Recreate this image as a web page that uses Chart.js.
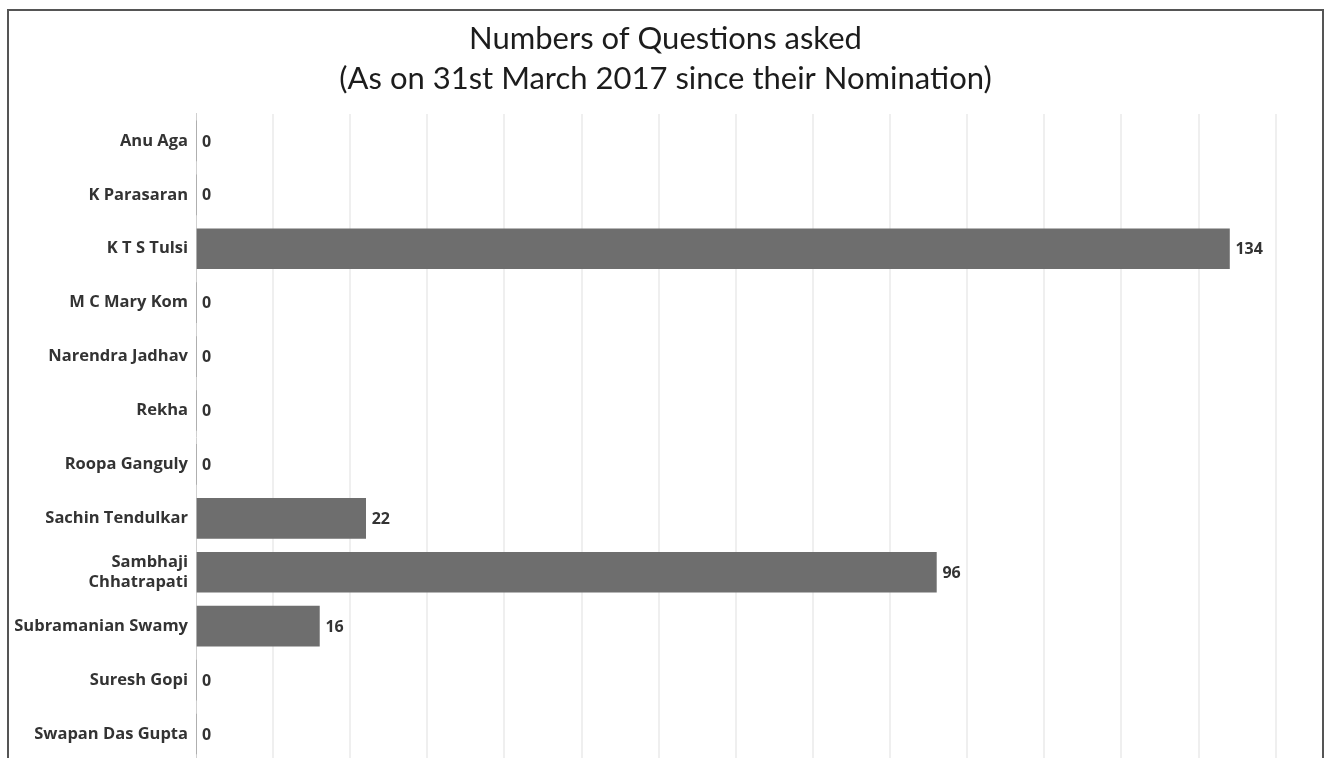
<!DOCTYPE html>
<html>
<head>
<meta charset="utf-8">
<script src="https://cdn.jsdelivr.net/npm/chart.js@4/dist/chart.umd.min.js"></script>
<style>
  html, body { margin: 0; padding: 0; background: #ffffff; overflow: hidden; }
  #frame {
    position: absolute; left: 7px; top: 9px; width: 1313px; height: 780px;
    border: 2px solid #555555; border-bottom: none; background: #ffffff; overflow: hidden;
  }
  #wrap { position: absolute; left: 0; top: 0; width: 1322px; height: 780px; }
</style>
</head>
<body>
<div id="frame"><div id="wrap"><canvas id="chart"></canvas></div></div>
<script>
// Members and how many questions each asked
const members = [
  'Anu Aga', 'K Parasaran', 'K T S Tulsi', 'M C Mary Kom', 'Narendra Jadhav',
  'Rekha', 'Roopa Ganguly', 'Sachin Tendulkar', ['Sambhaji', 'Chhatrapati'],
  'Subramanian Swamy', 'Suresh Gopi', 'Swapan Das Gupta'
];
const questions = [0, 0, 134, 0, 0, 0, 0, 22, 96, 16, 0, 0];
const titleLines = ['Numbers of Questions asked', '(As on 31st March 2017 since their Nomination)'];

const labelFont = { family: 'Open Sans', size: 16.5, weight: 'bold', lineHeight: 1.25 };

// Writes each bar's value just past its end
const valueLabels = {
  id: 'valueLabels',
  afterDatasetsDraw(chart) {
    const ctx = chart.ctx;
    const meta = chart.getDatasetMeta(0);
    ctx.save();
    ctx.font = 'bold 16px "Open Sans"';
    ctx.fillStyle = '#333333';
    ctx.textAlign = 'left';
    ctx.textBaseline = 'middle';
    meta.data.forEach((bar, i) => {
      ctx.fillText(String(questions[i]), bar.x + 6, bar.y + 1);
    });
    ctx.restore();
  }
};

new Chart(document.getElementById('chart'), {
  type: 'bar',
  data: {
    labels: members,
    datasets: [{
      data: questions,
      backgroundColor: '#6e6e6e',
      borderWidth: 0,
      barThickness: 40
    }]
  },
  options: {
    indexAxis: 'y',
    responsive: true,
    maintainAspectRatio: false,
    animation: false,
    layout: { padding: { left: 0, right: 9, top: 0, bottom: 30 } },
    plugins: {
      legend: { display: false },
      tooltip: { enabled: false },
      title: {
        display: true,
        text: titleLines,
        color: '#1c1c1c',
        font: { family: 'Lato', size: 31, weight: 'normal', lineHeight: 1.29 },
        padding: { top: 8, bottom: 15 }
      }
    },
    scales: {
      x: {
        min: 0,
        max: 146,
        ticks: { display: false, stepSize: 10 },
        grid: {
          color: (c) => (c.tick && c.tick.value % 10 === 0 && c.tick.value > 0) ? '#efefef' : 'rgba(0,0,0,0)',
          lineWidth: 2,
          drawTicks: false
        },
        border: { display: false }
      },
      y: {
        ticks: { color: '#333333', font: labelFont, padding: 8 },
        grid: { display: false, drawTicks: false },
        border: { display: true, color: '#d0d0d0', width: 1 },
        afterFit(scale) { scale.width = 187; }
      }
    }
  },
  plugins: [valueLabels]
});
</script>
</body>
</html>
